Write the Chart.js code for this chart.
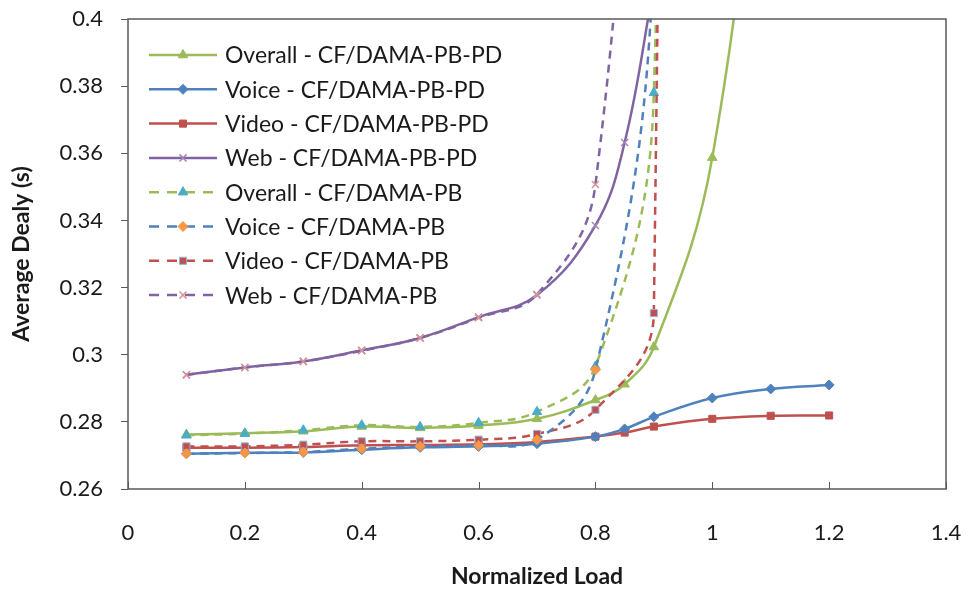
<!DOCTYPE html>
<html>
<head>
<meta charset="utf-8">
<script src="https://cdn.jsdelivr.net/npm/chart.js@4/dist/chart.umd.min.js"></script>
<style>
  body { margin: 0; background: #fff; }
  #chart { display: block; }
</style>
</head>
<body>
<canvas id="chart" width="968" height="590"></canvas>
<script>
// loads simulated for each scheme
const loadPD = [0.1, 0.2, 0.3, 0.4, 0.5, 0.6, 0.7, 0.8, 0.85, 0.9, 1.0, 1.1, 1.2];
const loadPB = [0.1, 0.2, 0.3, 0.4, 0.5, 0.6, 0.7, 0.8, 0.9, 1.0];

// average delay (s), CF/DAMA-PB-PD
const overallPD = [0.2762, 0.2766, 0.2772, 0.2786, 0.2782, 0.2789, 0.2809, 0.2865, 0.2912, 0.3023, 0.3587, 0.50, 0.65];
const voicePD   = [0.2705, 0.2708, 0.2709, 0.2717, 0.2724, 0.2727, 0.2735, 0.2756, 0.2779, 0.2815, 0.2871, 0.2898, 0.2910];
const videoPD   = [0.2723, 0.2723, 0.2725, 0.2730, 0.2731, 0.2733, 0.2740, 0.2756, 0.2768, 0.2786, 0.2809, 0.2818, 0.2819];
const webPD     = [0.2940, 0.2962, 0.2980, 0.3013, 0.3050, 0.3112, 0.3178, 0.3385, 0.3632, 0.41];

// average delay (s), CF/DAMA-PB
const overallPB = [0.2760, 0.2765, 0.2775, 0.2790, 0.2785, 0.2797, 0.2830, 0.2965, 0.3780, 1.5];
const voicePB   = [0.2705, 0.2707, 0.2710, 0.2720, 0.2727, 0.2730, 0.2747, 0.2955, 0.42, 1.2];
const videoPB   = [0.2727, 0.2727, 0.2732, 0.2742, 0.2742, 0.2747, 0.2764, 0.2836, 0.3124, 3.0];
const webPB     = [0.2940, 0.2962, 0.2980, 0.3012, 0.3050, 0.3110, 0.3180, 0.3507, 0.60];

const xTicks = [0, 0.2, 0.4, 0.6, 0.8, 1.0, 1.2, 1.4];
const yTicks = [0.26, 0.28, 0.3, 0.32, 0.34, 0.36, 0.38, 0.4];

const FONT = 'Lato, "Open Sans", sans-serif';

function pts(xs, ys) {
  return ys.map((y, i) => ({x: xs[i], y: y}));
}

function series(label, xs, ys, color, dashed, style, fill, stroke, radius, order) {
  return {
    label: label,
    data: pts(xs, ys),
    borderColor: color,
    borderWidth: 2.5,
    borderDash: dashed ? [8, 6] : [],
    pointStyle: style,
    pointRadius: radius,
    pointBackgroundColor: fill,
    pointBorderColor: stroke,
    pointBorderWidth: style === 'crossRot' ? 1.5 : 1,
    tension: 0.4,
    order: order   // lower order is drawn on top
  };
}

const datasets = [
  series('Overall - CF/DAMA-PB-PD', loadPD, overallPD, '#9BBB59', false, 'triangle', '#9BBB59', '#9BBB59', 5.5, 2),
  series('Voice - CF/DAMA-PB-PD',   loadPD, voicePD,   '#4F81BD', false, 'rectRot', '#4F81BD', '#4F81BD', 5, 2),
  series('Video - CF/DAMA-PB-PD',   loadPD, videoPD,   '#C0504D', false, 'rect', '#C0504D', '#C0504D', 5, 2),
  series('Web - CF/DAMA-PB-PD',     loadPD, webPD,     '#8064A2', false, 'crossRot', '#A682B5', '#A682B5', 5, 2),
  series('Overall - CF/DAMA-PB',    loadPB, overallPB, '#9BBB59', true, 'triangle', '#4BACC6', '#4BACC6', 5.5, 1),
  series('Voice - CF/DAMA-PB',      loadPB, voicePB,   '#4F81BD', true, 'rectRot', '#F79646', '#F79646', 5, 0),
  series('Video - CF/DAMA-PB',      loadPB, videoPB,   '#C0504D', true, 'rect', '#C0504D', '#95B3D7', 5, 0),
  series('Web - CF/DAMA-PB',        loadPB, webPB,     '#8064A2', true, 'crossRot', '#D99694', '#D99694', 5, 0)
];

// frame around the plot, inward x ticks and the legend box inside the plot
const decorations = {
  id: 'decorations',
  afterDraw(chart) {
    const {ctx, chartArea: a, scales} = chart;
    ctx.save();
    ctx.strokeStyle = '#595959';
    ctx.lineWidth = 1.5;
    ctx.strokeRect(a.left, a.top, a.right - a.left, a.bottom - a.top);

    ctx.beginPath();
    xTicks.forEach(v => {
      const x = Math.round(scales.x.getPixelForValue(v)) + 0.5;
      ctx.moveTo(x, a.bottom);
      ctx.lineTo(x, a.bottom - 7);
    });
    ctx.lineWidth = 1;
    ctx.stroke();

    const x0 = a.left + 21, x1 = a.left + 89, tx = a.left + 97;
    ctx.font = '23px ' + FONT;
    ctx.textBaseline = 'middle';
    ctx.fillStyle = '#1a1a1a';
    chart.data.datasets.forEach((ds, i) => {
      const y = a.top + 36 + i * 34.3;
      ctx.save();
      ctx.strokeStyle = ds.borderColor;
      ctx.lineWidth = 2.5;
      ctx.setLineDash(ds.borderDash.length ? [10, 8] : []);
      ctx.beginPath();
      ctx.moveTo(x0, y);
      ctx.lineTo(x1, y);
      ctx.stroke();
      ctx.restore();
      ctx.save();
      ctx.fillStyle = ds.pointBackgroundColor;
      ctx.strokeStyle = ds.pointBorderColor;
      ctx.lineWidth = ds.pointBorderWidth;
      Chart.helpers.drawPoint(ctx, {pointStyle: ds.pointStyle, radius: ds.pointRadius, rotation: 0, borderWidth: ds.pointBorderWidth}, (x0 + x1) / 2, y);
      ctx.restore();
      ctx.fillText(ds.label, tx, y + 1);
    });
    ctx.restore();
  }
};

const fmt = v => String(parseFloat(v.toFixed(2)));

// fixed scale boxes so the plot area lands where the layout padding puts it
function fixBox(size, key) {
  return s => {
    s[key] = size;
    s.paddingTop = s.paddingBottom = s.paddingLeft = s.paddingRight = 0;
  };
}

new Chart(document.getElementById('chart'), {
  type: 'line',
  data: {datasets: datasets},
  plugins: [decorations],
  options: {
    responsive: false,
    animation: false,
    devicePixelRatio: 1,
    layout: {padding: {left: 0, top: 19, right: 22, bottom: 0}},
    elements: {line: {capBezierPoints: false}},
    plugins: {legend: {display: false}, tooltip: {enabled: false}},
    scales: {
      x: {
        type: 'linear',
        min: 0, max: 1.4,
        afterFit: fixBox(101, 'height'),
        afterBuildTicks(s) { s.ticks = xTicks.map(v => ({value: v})); },
        grid: {display: true, drawOnChartArea: false, drawTicks: false},
        border: {display: false},
        ticks: {font: {family: FONT, size: 22}, color: '#1a1a1a', padding: 31, callback: fmt, maxRotation: 0},
        title: {display: true, text: 'Normalized Load', font: {family: FONT, size: 23, weight: 'bold'}, color: '#1a1a1a', padding: {top: 0, bottom: 0}}
      },
      y: {
        type: 'linear',
        min: 0.26, max: 0.4,
        afterFit: fixBox(128, 'width'),
        afterBuildTicks(s) { s.ticks = yTicks.map(v => ({value: v})); },
        grid: {display: true, drawOnChartArea: false, drawTicks: true, tickLength: 7, color: '#595959'},
        border: {display: false},
        ticks: {font: {family: FONT, size: 22}, color: '#1a1a1a', padding: 18, callback: fmt},
        title: {display: true, text: 'Average Dealy (s)', font: {family: FONT, size: 23, weight: 'bold'}, color: '#1a1a1a', padding: {top: 8, bottom: 0}}
      }
    }
  }
});
</script>
</body>
</html>
